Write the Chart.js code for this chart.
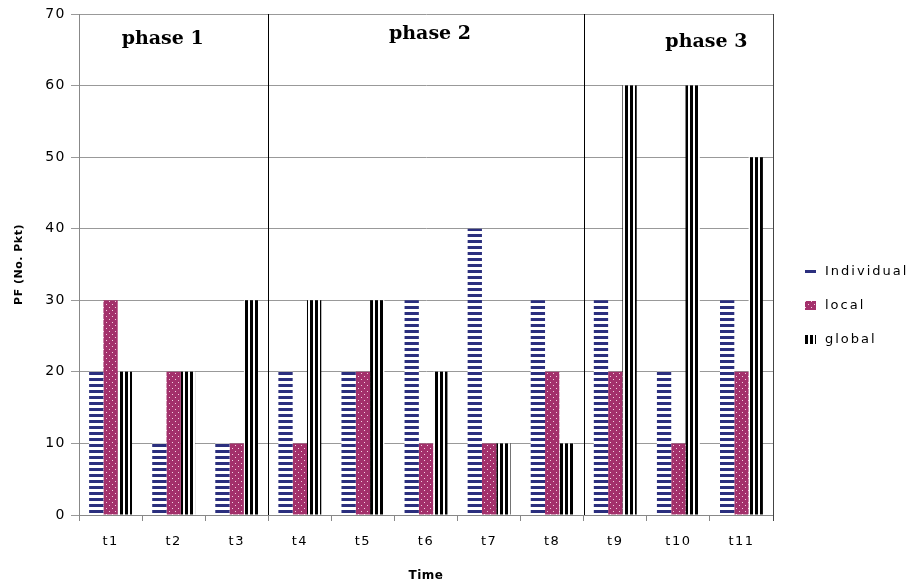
<!DOCTYPE html>
<html>
<head>
<meta charset="utf-8">
<script src="https://cdn.jsdelivr.net/npm/chart.js@4/dist/chart.umd.min.js"></script>
<style>
  html, body { margin: 0; padding: 0; background: #fff; }
  #wrap { width: 916px; height: 587px; }
</style>
</head>
<body>
<div id="wrap"><canvas id="pfChart" width="916" height="587"></canvas></div>
<script>
const timeLabels = ['t1', 't2', 't3', 't4', 't5', 't6', 't7', 't8', 't9', 't10', 't11'];
const individualVals = [20, 10, 10, 20, 20, 30, 40, 30, 30, 20, 30];
const localVals = [30, 20, 10, 10, 20, 10, 10, 20, 20, 10, 20];
const globalVals = [20, 20, 30, 30, 30, 20, 10, 10, 60, 60, 50];
const phaseNames = ['phase 1', 'phase 2', 'phase 3'];
const phaseFirst = [0, 3, 8];
const phaseLast = [2, 7, 10];

const sansFont = '"DejaVu Sans", Verdana, sans-serif';

function makePattern(kind) {
  const c = document.createElement('canvas');
  const g = c.getContext('2d');
  if (kind === 'hstripe') {
    c.width = 6; c.height = 6;
    g.fillStyle = '#fff'; g.fillRect(0, 0, 6, 6);
    g.fillStyle = '#2b2f7e'; g.fillRect(0, 0, 6, 3);
  } else if (kind === 'dots') {
    c.width = 6; c.height = 6;
    g.fillStyle = '#a3306b'; g.fillRect(0, 0, 6, 6);
    g.fillStyle = '#f2d0e0';
    g.fillRect(1, 1, 1, 1);
    g.fillRect(4, 4, 1, 1);
  } else {
    c.width = 5; c.height = 5;
    g.fillStyle = '#fff'; g.fillRect(0, 0, 5, 5);
    g.fillStyle = '#000'; g.fillRect(0, 0, 3, 5);
  }
  return g.createPattern(c, 'repeat');
}

// the old chart has loosely spaced sans text; axis titles stay tight
const spacingPlugin = {
  id: 'spacing',
  beforeLayout(chart) {
    chart.ctx.letterSpacing = '1.5px';
  },
  beforeDraw(chart) {
    chart.ctx.letterSpacing = '1.5px';
    Object.values(chart.scales).forEach(s => {
      if (s._tightTitle) return;
      const orig = s.drawTitle.bind(s);
      s.drawTitle = function () {
        const prev = chart.ctx.letterSpacing;
        chart.ctx.letterSpacing = '0.5px';
        orig();
        chart.ctx.letterSpacing = prev;
      };
      s._tightTitle = true;
    });
  }
};

// phase dividers, right border, phase titles and legend
const phasePlugin = {
  id: 'phases',
  afterDatasetsDraw(chart) {
    const { ctx, chartArea, scales } = chart;
    const x = scales.x;
    const step = x.getPixelForValue(1) - x.getPixelForValue(0);
    ctx.save();
    ctx.letterSpacing = '0px';
    ctx.strokeStyle = '#000';
    ctx.lineWidth = 1;
    for (let i = 1; i < phaseFirst.length; i++) {
      const px = Math.round(x.getPixelForValue(phaseFirst[i]) - step / 2) + 0.5;
      ctx.beginPath();
      ctx.moveTo(px, chartArea.top);
      ctx.lineTo(px, chartArea.bottom);
      ctx.stroke();
    }
    ctx.strokeStyle = '#444';
    ctx.beginPath();
    ctx.moveTo(Math.round(chartArea.right) + 0.5, chartArea.top);
    ctx.lineTo(Math.round(chartArea.right) + 0.5, chartArea.bottom + 6);
    ctx.stroke();

    ctx.fillStyle = '#000';
    ctx.font = 'bold 19px "DejaVu Serif", "Liberation Serif", serif';
    ctx.textAlign = 'center';
    ctx.textBaseline = 'alphabetic';
    const shifts = [-11, 4, 28];
    const baselines = [30, 25, 33];
    phaseNames.forEach((name, i) => {
      const cx = (x.getPixelForValue(phaseFirst[i]) + x.getPixelForValue(phaseLast[i])) / 2;
      ctx.fillText(name, cx + shifts[i], chartArea.top + baselines[i]);
    });
    ctx.restore();
  },
  afterDraw(chart) {
    const { ctx, chartArea } = chart;
    ctx.save();
    ctx.letterSpacing = '2px';
    ctx.font = '13px ' + sansFont;
    ctx.textAlign = 'left';
    ctx.textBaseline = 'middle';
    const boxX = chartArea.right + 32;
    const midY = chartArea.top + 292;
    chart.data.datasets.forEach((ds, i) => {
      const cy = Math.round(midY + (i - 1) * 34);
      ctx.fillStyle = ds.backgroundColor;
      ctx.fillRect(boxX, cy - 5, 11, 9);
      ctx.fillStyle = '#000';
      ctx.fillText(ds.label, boxX + 20, cy);
    });
    ctx.restore();
  }
};

const ctx = document.getElementById('pfChart').getContext('2d');

new Chart(ctx, {
  type: 'bar',
  data: {
    labels: timeLabels,
    datasets: [
      { label: 'Individual', data: individualVals, backgroundColor: makePattern('hstripe'), borderWidth: 0 },
      { label: 'local', data: localVals, backgroundColor: makePattern('dots'), borderWidth: 0 },
      { label: 'global', data: globalVals, backgroundColor: makePattern('vstripe'), borderWidth: 0 }
    ]
  },
  options: {
    responsive: false,
    animation: false,
    layout: { padding: { top: 14, right: 143, left: 13, bottom: 4 } },
    datasets: {
      bar: { categoryPercentage: 0.68, barPercentage: 1.0 }
    },
    plugins: {
      legend: { display: false },
      tooltip: { enabled: false }
    },
    scales: {
      x: {
        grid: {
          offset: true,
          drawOnChartArea: false,
          drawTicks: true,
          tickLength: 6,
          color: '#888'
        },
        border: { color: '#888' },
        ticks: {
          color: '#000',
          padding: 13,
          font: { family: sansFont, size: 13 }
        },
        title: {
          display: true,
          text: 'Time',
          color: '#000',
          padding: { top: 6, bottom: 0 },
          font: { family: sansFont, size: 12, weight: 'bold' }
        }
      },
      y: {
        min: 0,
        max: 70,
        ticks: {
          stepSize: 10,
          color: '#000',
          padding: 5,
          font: { family: sansFont, size: 14 }
        },
        grid: {
          color: '#999',
          tickLength: 8,
          drawTicks: true
        },
        border: { color: '#888' },
        title: {
          display: true,
          text: 'PF (No. Pkt)',
          color: '#000',
          padding: { top: 0, bottom: 14 },
          font: { family: sansFont, size: 11, weight: 'bold' }
        }
      }
    }
  },
  plugins: [spacingPlugin, phasePlugin]
});
</script>
</body>
</html>
